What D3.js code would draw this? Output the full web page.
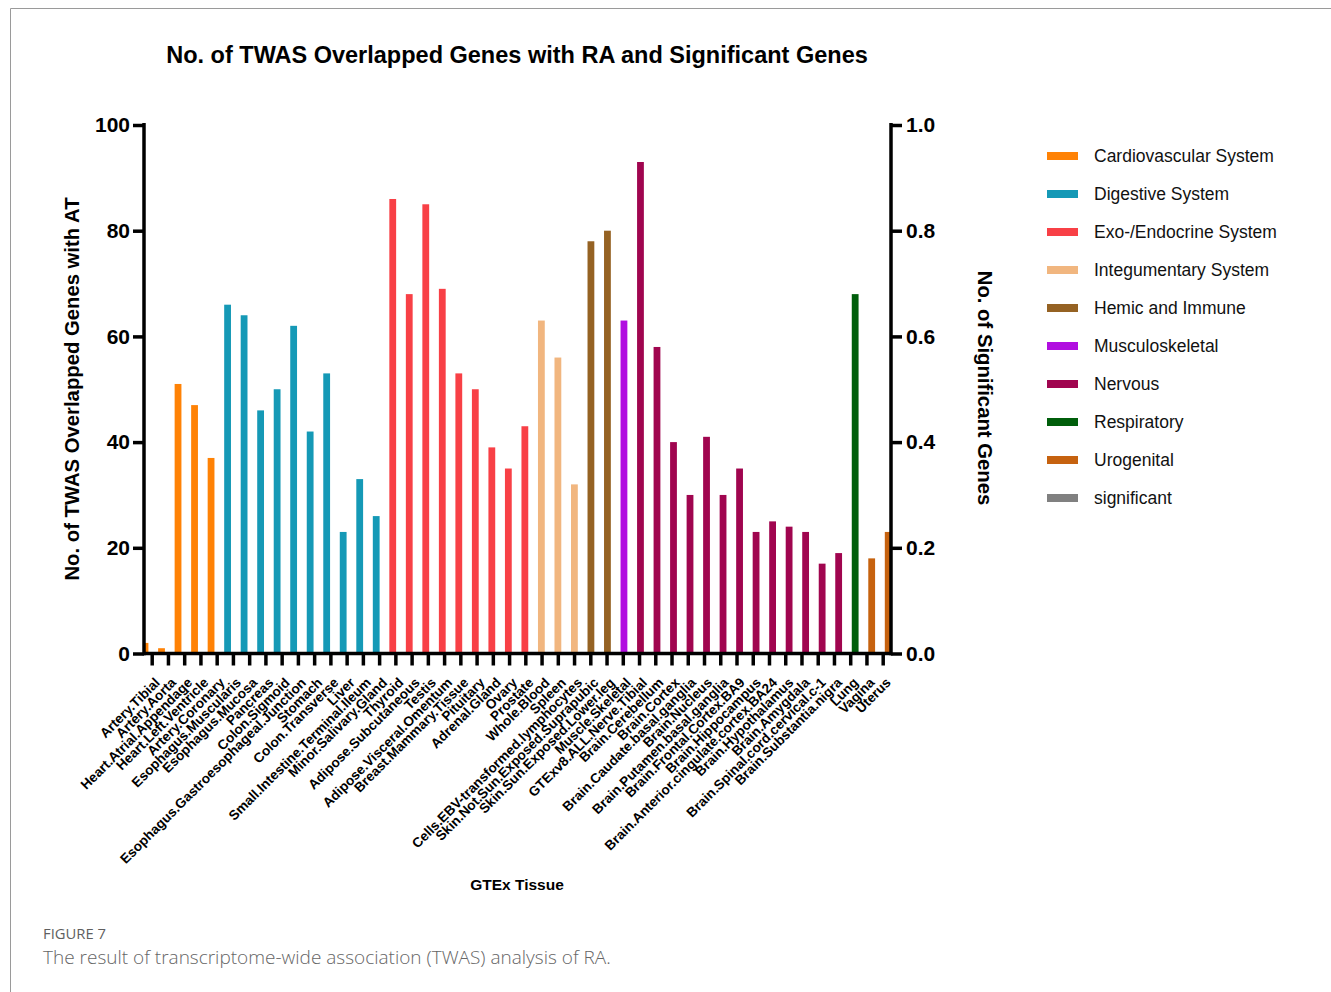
<!DOCTYPE html>
<html>
<head>
<meta charset="utf-8">
<script src="https://cdn.jsdelivr.net/npm/d3@7"></script>
<style>
  html, body { margin: 0; padding: 0; background: #fff; }
  svg { display: block; }
</style>
</head>
<body>
<svg id="chart" width="1331" height="992"></svg>
<script>
// GTEx tissues, in plotting order
const tissues = [
  "Artery.Tibial", "Artery.Aorta", "Heart.Atrial.Appendage", "Heart.Left.Ventricle", "Artery.Coronary",
  "Esophagus.Muscularis", "Esophagus.Mucosa", "Pancreas", "Colon.Sigmoid", "Esophagus.Gastroesophageal.Junction",
  "Stomach", "Colon.Transverse", "Liver", "Small.Intestine.Terminal.Ileum", "Minor.Salivary.Gland",
  "Thyroid", "Adipose.Subcutaneous", "Testis", "Adipose.Visceral.Omentum", "Breast.Mammary.Tissue",
  "Pituitary", "Adrenal.Gland", "Ovary", "Prostate",
  "Whole.Blood", "Spleen", "Cells.EBV-transformed.lymphocytes",
  "Skin.Not.Sun.Exposed.Suprapubic", "Skin.Sun.Exposed.Lower.leg",
  "Muscle.Skeletal",
  "GTExv8.ALL.Nerve.Tibial", "Brain.Cerebellum", "Brain.Cortex", "Brain.Caudate.basal.ganglia", "Brain.Nucleus",
  "Brain.Putamen.basal.ganglia", "Brain.Frontal.Cortex.BA9", "Brain.Hippocampus", "Brain.Anterior.cingulate.cortex.BA24",
  "Brain.Hypothalamus", "Brain.Amygdala", "Brain.Spinal.cord.cervical.c-1", "Brain.Substantia.nigra",
  "Lung", "Vagina", "Uterus"
];

// Body system of each tissue
const systems = [
  "Cardiovascular System", "Cardiovascular System", "Cardiovascular System", "Cardiovascular System", "Cardiovascular System",
  "Digestive System", "Digestive System", "Digestive System", "Digestive System", "Digestive System",
  "Digestive System", "Digestive System", "Digestive System", "Digestive System", "Digestive System",
  "Exo-/Endocrine System", "Exo-/Endocrine System", "Exo-/Endocrine System", "Exo-/Endocrine System", "Exo-/Endocrine System",
  "Exo-/Endocrine System", "Exo-/Endocrine System", "Exo-/Endocrine System", "Exo-/Endocrine System",
  "Integumentary System", "Integumentary System", "Integumentary System",
  "Hemic and Immune", "Hemic and Immune",
  "Musculoskeletal",
  "Nervous", "Nervous", "Nervous", "Nervous", "Nervous",
  "Nervous", "Nervous", "Nervous", "Nervous",
  "Nervous", "Nervous", "Nervous", "Nervous",
  "Respiratory", "Urogenital", "Urogenital"
];

// No. of TWAS genes overlapping with RA, per tissue (left axis)
const overlapped = [
  2, 1, 51, 47, 37,
  66, 64, 46, 50, 62,
  42, 53, 23, 33, 26,
  86, 68, 85, 69, 53,
  50, 39, 35, 43,
  63, 56, 32,
  78, 80,
  63,
  93, 58, 40, 30, 41,
  30, 35, 23, 25,
  24, 23, 17, 19,
  68, 18, 23
];

// No. of significant genes, per tissue (right axis)
const significant = [
  0, 0, 0, 0, 0, 0, 0, 0, 0, 0,
  0, 0, 0, 0, 0, 0, 0, 0, 0, 0,
  0, 0, 0, 0, 0, 0, 0, 0, 0, 0,
  0, 0, 0, 0, 0, 0, 0, 0, 0, 0,
  0, 0, 0, 0, 0, 0
];

// Legend entries and their colours
const legendNames = [
  "Cardiovascular System", "Digestive System", "Exo-/Endocrine System", "Integumentary System",
  "Hemic and Immune", "Musculoskeletal", "Nervous", "Respiratory", "Urogenital", "significant"
];
const legendColors = [
  "#FF8205", "#1599B6", "#F84046", "#F1B67F",
  "#956223", "#B10EE0", "#A0054F", "#005E0B", "#C6620F", "#808080"
];

// Axis tick values
const leftTicks = [0, 20, 40, 60, 80, 100];
const rightTicks = [0, 0.2, 0.4, 0.6, 0.8, 1.0];

const svg = d3.select("#chart");
const FONT = "'Liberation Sans', Arial, Helvetica, sans-serif";
const CAPTION_FONT = "'Open Sans', 'Noto Sans', sans-serif";

const color = d3.scaleOrdinal().domain(legendNames).range(legendColors);

// Plot frame
const plotLeft = 144, plotRight = 891, plotTop = 125, plotBottom = 653.5;

const y = d3.scaleLinear().domain([0, 100]).range([plotBottom, plotTop]);
const y2 = d3.scaleLinear().domain([0, 1]).range([plotBottom, plotTop]);

// Bar centres and category tick positions
const xBar = d3.scalePoint().domain(tissues).range([145, 888.2]);
const xTick = d3.scalePoint().domain(tissues).range([151.7, 882.7]);
const barW = 6.8;

// Figure panel border
svg.append("path")
  .attr("d", "M10.5,992 L10.5,8.5 L1331,8.5")
  .attr("fill", "none")
  .attr("stroke", "#9a9a9a")
  .attr("stroke-width", 1);

// Title
svg.append("text")
  .attr("x", 517).attr("y", 63)
  .attr("text-anchor", "middle")
  .attr("font-family", FONT).attr("font-weight", "bold").attr("font-size", 23.5)
  .text("No. of TWAS Overlapped Genes with RA and Significant Genes");

// Clip bars to the plot frame
svg.append("clipPath").attr("id", "plot-clip")
  .append("rect")
  .attr("x", plotLeft).attr("y", plotTop - 5)
  .attr("width", plotRight - plotLeft).attr("height", plotBottom - plotTop + 5);

const bars = svg.append("g").attr("clip-path", "url(#plot-clip)");

const rows = tissues.map((t, i) => ({ tissue: t, system: systems[i], value: overlapped[i], sig: significant[i] }));

bars.selectAll("rect.count")
  .data(rows)
  .join("rect")
  .attr("class", "count")
  .attr("x", d => xBar(d.tissue) - barW / 2)
  .attr("y", d => y(d.value))
  .attr("width", barW)
  .attr("height", d => y(0) - y(d.value))
  .attr("fill", d => color(d.system));

bars.selectAll("rect.sig")
  .data(rows)
  .join("rect")
  .attr("class", "sig")
  .attr("x", d => xBar(d.tissue) + barW / 2)
  .attr("y", d => y2(d.sig))
  .attr("width", barW)
  .attr("height", d => y2(0) - y2(d.sig))
  .attr("fill", color("significant"));

// Axes
function styleAxis(g, size) {
  g.selectAll("path.domain").attr("stroke", "#000").attr("stroke-width", 3.5);
  g.selectAll(".tick line").attr("stroke", "#000").attr("stroke-width", 3.5);
  g.selectAll(".tick text")
    .attr("font-family", FONT).attr("font-weight", "bold").attr("font-size", size).attr("fill", "#000");
}

const gx = svg.append("g")
  .attr("transform", `translate(0,${plotBottom})`)
  .call(d3.axisBottom(xTick).tickSize(12).tickSizeOuter(0).tickFormat(""));
gx.select("path.domain").attr("d", `M${plotLeft},0H${plotRight}`);
styleAxis(gx, 13);

const gl = svg.append("g")
  .attr("transform", `translate(${plotLeft},0)`)
  .call(d3.axisLeft(y).tickValues(leftTicks).tickSize(11).tickSizeOuter(0).tickPadding(3).tickFormat(d3.format("d")));
styleAxis(gl, 21);
gl.select("path.domain").attr("d", `M0,${plotBottom + 1.7}V${plotTop - 2}`);

const gr = svg.append("g")
  .attr("transform", `translate(${plotRight},0)`)
  .call(d3.axisRight(y2).tickValues(rightTicks).tickSize(11).tickSizeOuter(0).tickPadding(4).tickFormat(d3.format(".1f")));
styleAxis(gr, 21);
gr.select("path.domain").attr("d", `M0,${plotBottom + 1.7}V${plotTop - 2}`);

// Rotated tissue labels
svg.append("g").selectAll("text")
  .data(tissues)
  .join("text")
  .attr("transform", d => `translate(${xTick(d) + 9},${plotBottom + 30}) rotate(-45)`)
  .attr("text-anchor", "end")
  .attr("font-family", FONT).attr("font-weight", "bold").attr("font-size", 13.6)
  .text(d => d);

// Axis titles
svg.append("text")
  .attr("x", 517).attr("y", 890)
  .attr("text-anchor", "middle")
  .attr("font-family", FONT).attr("font-weight", "bold").attr("font-size", 15.5)
  .text("GTEx Tissue");

svg.append("text")
  .attr("transform", "translate(79,389) rotate(-90)")
  .attr("text-anchor", "middle")
  .attr("font-family", FONT).attr("font-weight", "bold").attr("font-size", 20.3)
  .text("No. of TWAS Overlapped Genes with AT");

svg.append("text")
  .attr("transform", "translate(978,388) rotate(90)")
  .attr("text-anchor", "middle")
  .attr("font-family", FONT).attr("font-weight", "bold").attr("font-size", 20.3)
  .text("No. of Significant Genes");

// Legend
const legend = svg.append("g").attr("transform", "translate(1047,156)");
const item = legend.selectAll("g")
  .data(legendNames)
  .join("g")
  .attr("transform", (d, i) => `translate(0,${i * 38})`);
item.append("rect")
  .attr("x", 0).attr("y", -4)
  .attr("width", 31).attr("height", 8)
  .attr("fill", d => color(d));
item.append("text")
  .attr("x", 47).attr("y", 6)
  .attr("font-family", FONT).attr("font-size", 17.5).attr("fill", "#111")
  .text(d => d);

// Figure caption
svg.append("text")
  .attr("x", 43).attr("y", 939)
  .attr("font-family", CAPTION_FONT).attr("font-size", 14.8).attr("fill", "#5f5f5f")
  .text("FIGURE 7");
svg.append("text")
  .attr("x", 43).attr("y", 964)
  .attr("font-family", CAPTION_FONT).attr("font-weight", 300).attr("font-size", 19).attr("fill", "#666")
  .text("The result of transcriptome-wide association (TWAS) analysis of RA.");
</script>
</body>
</html>
